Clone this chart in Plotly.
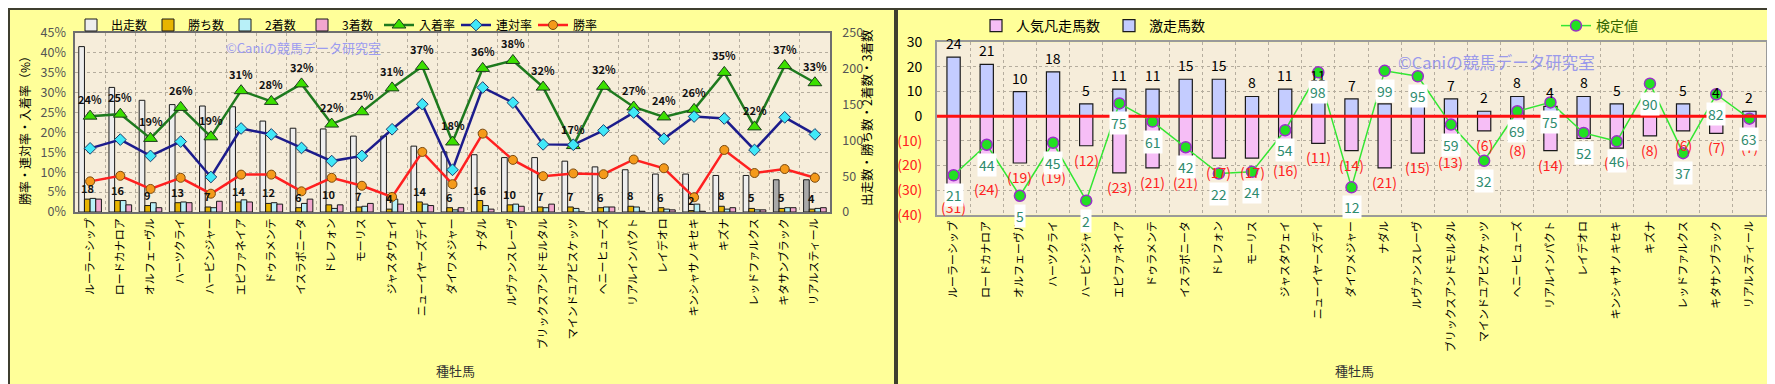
import plotly.graph_objects as go

# ---------------- data ----------------
sires = ["ルーラーシップ", "ロードカナロア", "オルフェーヴル", "ハーツクライ", "ハービンジャー",
         "エピファネイア", "ドゥラメンテ", "イスラボニータ", "ドレフォン", "モーリス",
         "ジャスタウェイ", "ニューイヤーズデイ", "ダイワメジャー", "ナダル", "ルヴァンスレーヴ",
         "ブリックスアンドモルタル", "マインドユアビスケッツ", "ヘニーヒューズ", "リアルインパクト", "レイデオロ",
         "キンシャサノキセキ", "キズナ", "レッドファルクス", "キタサンブラック", "リアルスティール"]

starts = [231, 174, 156, 150, 148, 147, 127, 117, 116, 106, 106, 92, 84, 80, 76, 76, 71, 63, 59, 53, 53, 51, 51, 45, 45]
wins = [18, 16, 9, 13, 7, 14, 12, 6, 10, 7, 4, 14, 6, 16, 10, 7, 7, 6, 8, 6, 2, 8, 5, 5, 4]
seconds = [19, 16, 13, 14, 6, 17, 13, 12, 5, 8, 18, 11, 3, 9, 11, 6, 5, 7, 7, 4, 11, 4, 3, 6, 5]
thirds = [18, 10, 6, 13, 15, 14, 11, 18, 10, 12, 11, 9, 6, 4, 8, 11, 0, 7, 1, 3, 1, 6, 3, 6, 6]

win_rate = [7.7, 9.1, 5.8, 8.6, 4.6, 9.4, 9.4, 5.2, 8.6, 6.6, 3.8, 15.1, 7.0, 19.7, 13.1, 9.0, 9.7, 9.5, 13.2, 11.0, 3.7, 15.6, 9.8, 10.8, 8.6]
quinella_rate = [16.0, 18.2, 14.1, 17.7, 8.8, 21.0, 19.5, 16.1, 12.8, 14.1, 20.8, 27.1, 10.6, 31.3, 27.5, 17.0, 16.9, 20.5, 25.0, 18.4, 24.0, 23.5, 15.6, 23.8, 19.5]
place_rate = [24.1, 24.6, 18.5, 26.3, 18.9, 30.5, 27.8, 32.2, 22.1, 25.2, 31.2, 36.6, 17.6, 36.1, 38.1, 31.4, 16.7, 31.6, 26.4, 23.9, 25.8, 35.1, 21.4, 36.8, 32.5]
place_label = ["24%", "25%", "19%", "26%", "19%", "31%", "28%", "32%", "22%", "25%", "31%", "37%", "18%",
               "36%", "38%", "32%", "17%", "32%", "27%", "24%", "26%", "35%", "22%", "37%", "33%"]

hot_count = [24, 21, 10, 18, 5, 11, 11, 15, 15, 8, 11, 11, 7, 5, 4, 7, 2, 8, 4, 8, 5, 1, 5, 4, 2]
flop_count = [31, 24, 19, 19, 12, 23, 21, 21, 17, 17, 16, 11, 14, 21, 15, 13, 6, 8, 14, 9, 13, 8, 6, 7, 7]
test_pos = [-24.0, -11.6, -32.3, -10.8, -34.3, 5.2, -2.2, -12.6, -23.3, -22.6, -5.7, 17.8, -28.9,
            18.4, 16.2, -3.4, -18.1, 2.0, 5.6, -6.8, -10.2, 13.2, -15.0, 8.9, -1.0]
test_label = [21, 44, 5, 45, 2, 75, 61, 42, 22, 24, 54, 98, 12, 99, 95, 59, 32, 69, 75, 52, 46, 90, 37, 82, 63]

pct_ticks = [0, 5, 10, 15, 20, 25, 30, 35, 40, 45]
count_ticks = [0, 50, 100, 150, 200, 250]
right_ticks = [-40, -30, -20, -10, 0, 10, 20, 30]

# ---------------- styling helpers ----------------
W, H = 1775, 384
FONT = "Noto Sans CJK JP, Noto Sans, sans-serif"


def px(x):
    return x / W


def py(y):
    return 1 - y / H


start_colors = ["#EEEEEE"] * (len(starts) - 2) + ["#A9A9A9"] * 2
cat_range = [-0.5, len(sires) - 0.5]

fig = go.Figure()

# ---------------- left chart ----------------
bar_line = dict(color="#1a1a1a", width=1)
fig.add_trace(go.Bar(x=sires, y=starts, name="出走数", marker=dict(color=start_colors, line=bar_line),
                     xaxis="x", yaxis="y", legend="legend"))
fig.add_trace(go.Bar(x=sires, y=wins, name="勝ち数", marker=dict(color="#E8B400", line=bar_line),
                     xaxis="x", yaxis="y", legend="legend"))
fig.add_trace(go.Bar(x=sires, y=seconds, name="2着数", marker=dict(color="#B8F0F8", line=bar_line),
                     xaxis="x", yaxis="y", legend="legend"))
fig.add_trace(go.Bar(x=sires, y=thirds, name="3着数", marker=dict(color="#F2A6CE", line=bar_line),
                     xaxis="x", yaxis="y", legend="legend"))

fig.add_trace(go.Scatter(x=sires, y=place_rate, name="入着率", mode="lines+markers",
                         line=dict(color="#1E7A1E", width=2.5),
                         marker=dict(symbol="triangle-up", size=12, color="#3CE000",
                                     line=dict(color="#1d3d1d", width=1)),
                         xaxis="x", yaxis="y2", legend="legend"))
fig.add_trace(go.Scatter(x=sires, y=quinella_rate, name="連対率", mode="lines+markers",
                         line=dict(color="#1C1C8C", width=2.5),
                         marker=dict(symbol="diamond", size=9, color="#40E8F8",
                                     line=dict(color="#1C3C6C", width=1)),
                         xaxis="x", yaxis="y2", legend="legend"))
fig.add_trace(go.Scatter(x=sires, y=win_rate, name="勝率", mode="lines+markers",
                         line=dict(color="#FF2020", width=2.5),
                         marker=dict(symbol="circle", size=9, color="#F59A1A",
                                     line=dict(color="#7A4A10", width=1)),
                         xaxis="x", yaxis="y2", legend="legend"))

# ---------------- right chart ----------------
fig.add_trace(go.Bar(x=sires, y=[-v for v in flop_count], name="人気凡走馬数", width=0.4, offset=-0.2,
                     marker=dict(color="#F6BEF6", line=dict(color="#1a1a1a", width=1.2)),
                     xaxis="x2", yaxis="y3", legend="legend2"))
fig.add_trace(go.Bar(x=sires, y=hot_count, name="激走馬数", width=0.4, offset=-0.2,
                     marker=dict(color="#C4CCFF", line=dict(color="#1a1a1a", width=1.2)),
                     xaxis="x2", yaxis="y3", legend="legend2"))
fig.add_trace(go.Scatter(x=sires, y=test_pos, name="検定値", mode="lines+markers",
                         line=dict(color="#33E633", width=1.5),
                         marker=dict(symbol="circle", size=11, color="#22E022",
                                     line=dict(color="#9B30C8", width=1.5)),
                         xaxis="x2", yaxis="y3", legend="legend3"))

# ---------------- annotations ----------------
ann = []
for s, v, lab in zip(sires, place_rate, place_label):
    ann.append(dict(x=s, y=v, xref="x", yref="y2", text=f"<b>{lab}</b>", showarrow=False, yshift=17,
                    font=dict(size=11, color="#111", family=FONT)))
for s, v in zip(sires, wins):
    ann.append(dict(x=s, y=v, xref="x", yref="y", text=f"<b>{v}</b>", showarrow=False, yshift=11, xshift=-3,
                    font=dict(size=11, color="#111", family=FONT)))
for s, v in zip(sires, hot_count):
    ann.append(dict(x=s, y=v, xref="x2", yref="y3", text=str(v), showarrow=False, yshift=14,
                    font=dict(size=14, color="#000", family=FONT)))
for s, v in zip(sires, flop_count):
    ann.append(dict(x=s, y=-v, xref="x2", yref="y3", text=f"({v})", showarrow=False, yshift=-14,
                    font=dict(size=14, color="#FF2020", family=FONT)))
for s, v, lab in zip(sires, test_pos, test_label):
    ann.append(dict(x=s, y=v, xref="x2", yref="y3", text=str(lab), showarrow=False, yshift=-20,
                    bgcolor="#FFFFFF", borderpad=1,
                    font=dict(size=14, color="#2E8B6E", family=FONT)))

center = dict(xref="paper", yref="paper", xanchor="center", yanchor="middle", showarrow=False)

# watermarks
ann.append(dict(x=px(295), y=py(39), text="©Caniの競馬データ研究室",
                font=dict(size=13, color="#9C9CF0", family=FONT), **center))
ann.append(dict(x=px(1488), y=py(54), text="©Caniの競馬データ研究室",
                font=dict(size=16.5, color="#8C8CEE", family=FONT), opacity=0.85, **center))

# axis titles
ann.append(dict(x=px(16), y=py(120), text="勝率・連対率・入着率（%）", textangle=-90,
                font=dict(size=12, color="#000", family=FONT), **center))
ann.append(dict(x=px(859), y=py(110), text="出走数・勝ち数・2着数・3着数", textangle=-90,
                font=dict(size=12.5, color="#000", family=FONT), **center))
ann.append(dict(x=px(447), y=py(362), text="種牡馬",
                font=dict(size=13, color="#333", family=FONT), **center))
ann.append(dict(x=px(1346), y=py(362), text="種牡馬",
                font=dict(size=13, color="#333", family=FONT), **center))

# ---------------- shapes ----------------
shapes = [
    dict(type="line", xref="x2 domain", yref="y3", x0=0, x1=1, y0=0, y1=0,
         line=dict(color="#FF1010", width=3), layer="above"),
    dict(type="rect", xref="paper", yref="paper", x0=px(1), x1=px(887), y0=py(383), y1=py(1),
         line=dict(color="#3F3F2F", width=2), layer="above"),
    dict(type="rect", xref="paper", yref="paper", x0=px(889), x1=px(1774), y0=py(383), y1=py(1),
         line=dict(color="#3F3F2F", width=2), layer="above"),
]

grid = dict(showgrid=True, gridcolor="#B5AD9E", griddash="dot", gridwidth=1)

right_ticktext = [f'<span style="color:#FF2020">({-t})</span>' if t < 0 else str(t) for t in right_ticks]

fig.update_layout(
    width=W, height=H,
    margin=dict(l=0, r=0, t=0, b=0, autoexpand=False),
    paper_bgcolor="#FFFF99", plot_bgcolor="#F6EDDA",
    font=dict(family=FONT, size=12, color="#000"),
    barmode="group", bargap=0.25, bargroupgap=0,
    annotations=ann, shapes=shapes,
    xaxis=dict(domain=[px(67), px(822)], anchor="y", type="category", tickangle=-90, range=cat_range,
               tickfont=dict(size=11, color="#000"), tickson="boundaries", ticks="",
               showline=True, linecolor="#6E6E6E", linewidth=1.5, mirror=True, **grid),
    yaxis=dict(domain=[py(204), py(25)], anchor="x", side="right", range=[0, 250],
               tickvals=count_ticks, showgrid=False, ticks="", ticklabelstandoff=8,
               tickfont=dict(size=12.5, color="#555"),
               showline=True, linecolor="#6E6E6E", linewidth=1.5, mirror=True, zeroline=False),
    yaxis2=dict(overlaying="y", anchor="x", side="left", range=[0, 45],
                tickvals=pct_ticks, ticktext=[f"{t}%" for t in pct_ticks], ticks="", ticklabelstandoff=8,
                tickfont=dict(size=12.5, color="#555"), zeroline=False, **grid),
    xaxis2=dict(domain=[px(929), px(1758)], anchor="y3", type="category", tickangle=-90, range=cat_range,
                tickfont=dict(size=11, color="#000"), tickson="boundaries", ticks="",
                showline=True, linecolor="#9A9A9A", linewidth=2, mirror=True, **grid),
    yaxis3=dict(domain=[py(206.7), py(34.3)], anchor="x2", range=[-40, 30],
                tickvals=right_ticks, ticktext=right_ticktext, ticks="", ticklabelstandoff=10,
                tickfont=dict(size=14, color="#000"), zeroline=False,
                showline=True, linecolor="#9A9A9A", linewidth=2, mirror=True, **grid),
    legend=dict(orientation="h", x=px(63), y=py(17), xanchor="left", yanchor="middle",
                bgcolor="rgba(0,0,0,0)", font=dict(size=12, color="#000", family=FONT),
                entrywidth=32, entrywidthmode="pixels", itemwidth=30, traceorder="normal"),
    legend2=dict(orientation="h", x=px(968), y=py(18), xanchor="left", yanchor="middle",
                 bgcolor="rgba(0,0,0,0)", font=dict(size=14, color="#000", family=FONT),
                 entrywidth=88, entrywidthmode="pixels", itemwidth=30, traceorder="normal"),
    legend3=dict(orientation="h", x=px(1548), y=py(18), xanchor="left", yanchor="middle",
                 bgcolor="rgba(0,0,0,0)", font=dict(size=14, color="#336600", family=FONT),
                 itemwidth=30),
)

fig.write_html("out.html")
